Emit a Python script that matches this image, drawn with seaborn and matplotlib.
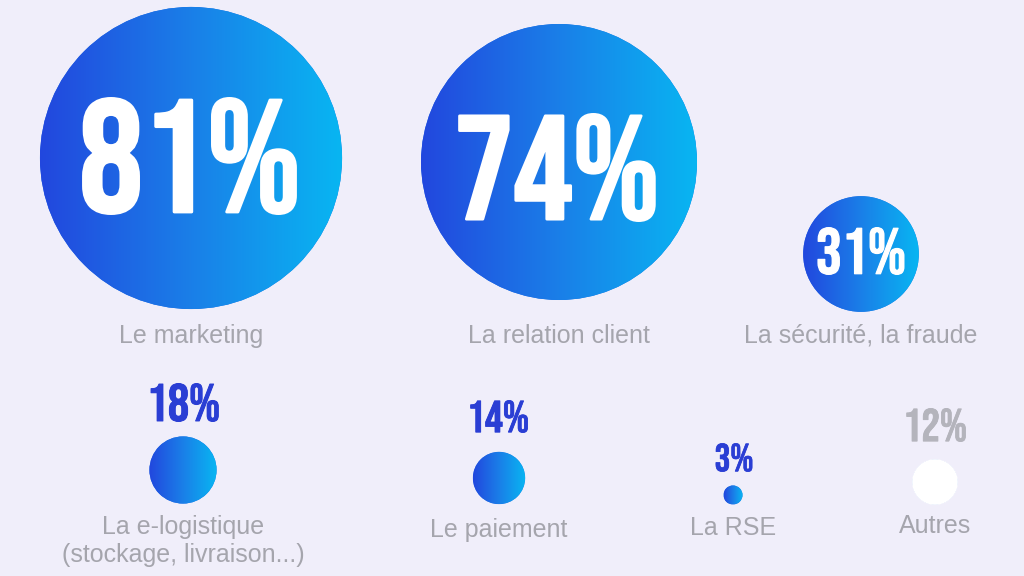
import numpy as np
import pandas as pd
import matplotlib
matplotlib.use("Agg")
import matplotlib.pyplot as plt
import matplotlib.patheffects as pe
import seaborn as sns
from matplotlib.patches import Circle
from matplotlib import font_manager as fm
from matplotlib.textpath import TextPath

# ---- data ----
categories = ["Le marketing", "La relation client", "La sécurité, la fraude",
              "La e-logistique\n(stockage, livraison...)", "Le paiement", "La RSE", "Autres"]
values = [81, 74, 31, 18, 14, 3, 12]
value_labels = ["81%", "74%", "31%", "18%", "14%", "3%", "12%"]

# ---- layout (pixel coordinates) ----
cx = [191, 559, 861, 183, 499, 733, 935]
cy = [158, 162, 254, 470, 478, 495, 482]
pct_x = [190, 557, 861, 183.5, 498, 734, 935]
pct_y = [156, 167.5, 251, 402.5, 416.5, 457.5, 425]
pct_size = [118, 109, 48, 39, 33, 29, 34]   # glyph heights in px
label_base = [343, 343, 343, 534, 537, 535, 533]
pct_colors = ["white", "white", "white", "#2a3ed4", "#2a3ed4", "#2a3ed4", "#b4b4bc"]
fills = ["grad"] * 6 + ["white"]

BG = "#f0eefa"
sns.set_theme(style="white")

names = {f.name for f in fm.fontManager.ttflist}
pct_family = "DejaVu Sans"
for cand in ["Bebas Neue", "League Gothic", "Oswald"]:
    if cand in names:
        pct_family = cand
        break
lab_family = "Liberation Sans"
for cand in ["Arimo", "Liberation Sans"]:
    if cand in names:
        lab_family = cand
        break
plt.rcParams["font.family"] = [lab_family, "DejaVu Sans"]

fig = plt.figure(figsize=(10.24, 5.76), dpi=100, facecolor=BG)
ax = fig.add_axes([0, 0, 1, 1])
ax.set_facecolor(BG)
ax.set_xlim(0, 1024)
ax.set_ylim(576, 0)
ax.axis("off")

radius = [max(1.865 * v, 9.5) for v in values]
df = pd.DataFrame({"x": cx, "y": cy, "cat": categories, "value": values,
                   "s": [(2 * r * 0.72) ** 2 for r in radius]})

sns.scatterplot(data=df, x="x", y="y", size="s", sizes=(min(df.s), max(df.s)),
                size_norm=(min(df.s), max(df.s)), color="#1f6fe6", linewidth=0,
                legend=False, ax=ax, zorder=2)

grad = np.linspace(0, 1, 256).reshape(1, -1)
cmap = matplotlib.colors.LinearSegmentedColormap.from_list(
    "g", ["#2247de", "#1a7fe8", "#08b6f2"])
for i in range(len(values)):
    r = radius[i]
    if fills[i] == "grad":
        circ = Circle((cx[i], cy[i]), r, transform=ax.transData, facecolor="none", edgecolor="none")
        ax.add_patch(circ)
        im = ax.imshow(grad, cmap=cmap, extent=(cx[i] - r, cx[i] + r, cy[i] + r, cy[i] - r),
                       aspect="auto", zorder=3, interpolation="bilinear")
        im.set_clip_path(circ)
    else:
        ax.add_patch(Circle((cx[i], cy[i]), r + 0.5, facecolor="white", edgecolor="none", zorder=3))

px2pt = 72 / 100
fp = fm.FontProperties(family=pct_family, weight="bold")
for i in range(len(values)):
    h = pct_size[i]
    sw = 0.025 * h                       # stroke width in px (thickens glyphs)
    ext = TextPath((0, 0), value_labels[i], size=100, prop=fp).get_extents()
    fs = (h - sw) / (ext.height / 100) * px2pt
    ax.text(pct_x[i], pct_y[i] + (h - sw) / 2 + ext.y0 / 100 * fs / px2pt, value_labels[i],
            ha="center", va="baseline", fontsize=fs, fontproperties=fp,
            color=pct_colors[i], zorder=5,
            path_effects=[pe.withStroke(linewidth=sw * px2pt, foreground=pct_colors[i])])
    for k, line in enumerate(categories[i].split("\n")):
        ax.text(cx[i], label_base[i] + 28 * k, line, ha="center", va="baseline", fontsize=18,
                color="#a5a5ad", zorder=5)

fig.savefig("out.png", dpi=100, facecolor=BG)
